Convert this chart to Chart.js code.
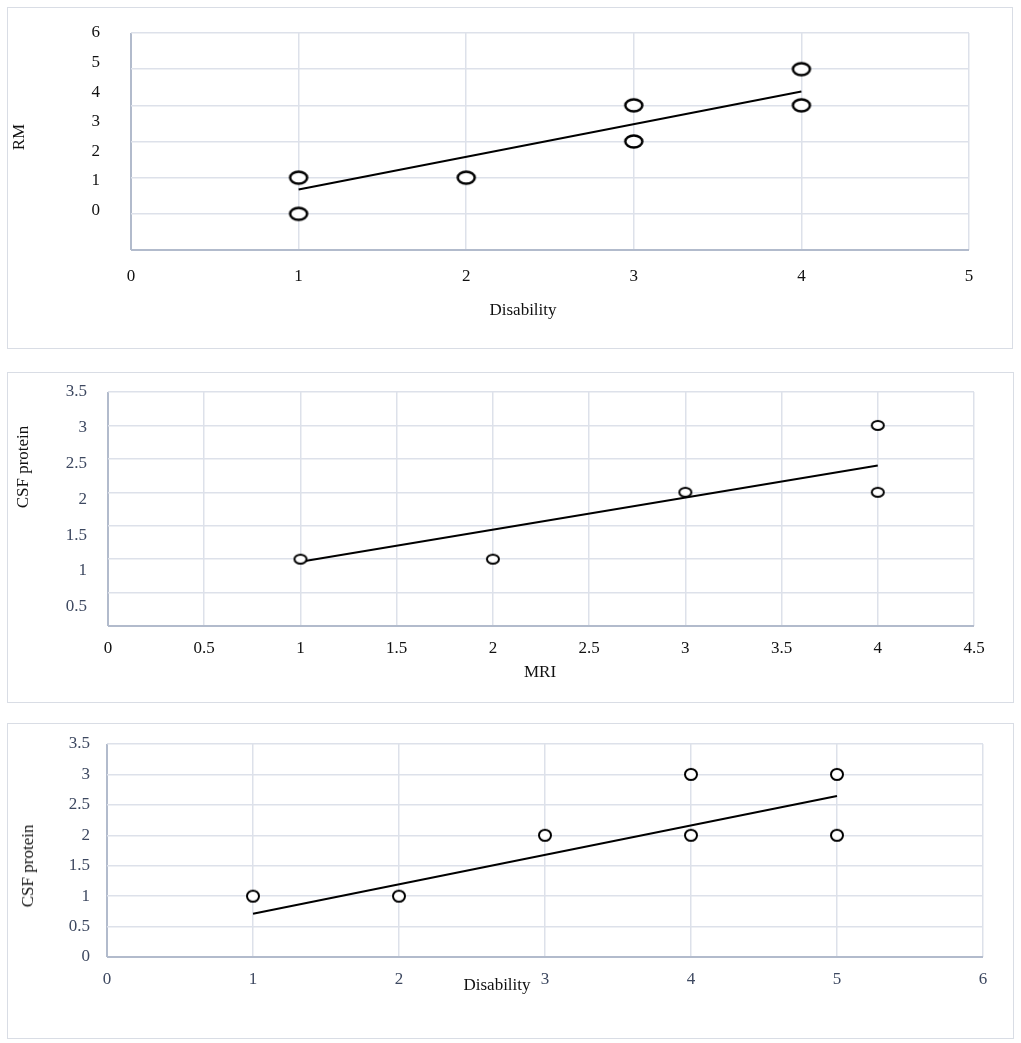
<!DOCTYPE html>
<html>
<head>
<meta charset="utf-8">
<script src="https://cdn.jsdelivr.net/npm/chart.js@4.4.1/dist/chart.umd.min.js"></script>
<style>
  html, body { margin: 0; padding: 0; background: #fff; }
  body { width: 1021px; height: 1043px; position: relative; overflow: hidden; font-family: 'Liberation Serif', serif; }
  .box { position: absolute; border: 1.5px solid #d9dde5; box-sizing: border-box; }
  canvas.c { position: absolute; left: 0; }
  .t { position: absolute; font-size: 17px; color: #111; white-space: nowrap; transform: translate(-50%, -50%); }
  .t.r { transform: translate(-50%, -50%) rotate(-90deg); }
</style>
</head>
<body>
<div class="box" style="left:7px;top:7px;width:1006px;height:342px;"></div>
<div class="box" style="left:7px;top:372px;width:1007px;height:331px;"></div>
<div class="box" style="left:7px;top:723px;width:1007px;height:316px;"></div>

<canvas id="c1" class="c" style="top:0px;"></canvas>
<canvas id="c2" class="c" style="top:360px;"></canvas>
<canvas id="c3" class="c" style="top:710px;"></canvas>

<div class="t r" style="left:19px;top:137px;">RM</div>
<div class="t" style="left:523px;top:310px;">Disability</div>
<div class="t r" style="left:23px;top:467px;">CSF protein</div>
<div class="t" style="left:540px;top:672px;">MRI</div>
<div class="t r" style="left:28px;top:866px;">CSF protein</div>
<div class="t" style="left:497px;top:985px;">Disability</div>

<script>
// ---------- Data ----------
// Panel 1: Disability vs RM
const p1X = [1, 1, 2, 3, 3, 4, 4];
const p1Y = [0, 1, 1, 2, 3, 3, 4];
const p1TrendX = [1, 4];
const p1TrendY = [0.67, 3.38];
const p1XTicks = [0, 1, 2, 3, 4, 5];
const p1YTickLabels = [0, 1, 2, 3, 4, 5, 6];

// Panel 2: MRI vs CSF protein
const p2X = [1, 2, 3, 4, 4];
const p2Y = [1, 1, 2, 2, 3];
const p2TrendX = [1, 4];
const p2TrendY = [0.96, 2.40];
const p2XTicks = [0, 0.5, 1, 1.5, 2, 2.5, 3, 3.5, 4, 4.5];
const p2YTickLabels = [0.5, 1, 1.5, 2, 2.5, 3, 3.5];

// Panel 3: Disability vs CSF protein
const p3X = [1, 2, 3, 4, 4, 5, 5];
const p3Y = [1, 1, 2, 2, 3, 2, 3];
const p3TrendX = [1, 5];
const p3TrendY = [0.71, 2.645];
const p3XTicks = [0, 1, 2, 3, 4, 5, 6];
const p3YTickLabels = [0, 0.5, 1, 1.5, 2, 2.5, 3, 3.5];

// ---------- Helpers ----------
Chart.defaults.font.family = "'Liberation Serif', 'Times New Roman', serif";
Chart.defaults.font.size = 17;
const GRID = '#dde1ea';
const AXIS = '#b2bbcc';

function ellipse(w, h, lw) {
  const c = document.createElement('canvas');
  c.width = Math.ceil(w + lw * 2 + 2);
  c.height = Math.ceil(h + lw * 2 + 2);
  const g = c.getContext('2d');
  g.beginPath();
  g.ellipse(c.width / 2, c.height / 2, w / 2, h / 2, 0, 0, Math.PI * 2);
  g.fillStyle = '#fff';
  g.fill();
  g.lineWidth = lw;
  g.strokeStyle = '#000';
  g.stroke();
  return c;
}

function pts(xs, ys) { return xs.map((x, i) => ({ x: x, y: ys[i] })); }
const fmt = v => String(v);
function noPadV(s) { s.paddingTop = 0; s.paddingBottom = 0; }

function makeChart(id, cfg) {
  const cv = document.getElementById(id);
  cv.width = 1021; cv.height = cfg.height;
  cv.style.width = '1021px'; cv.style.height = cfg.height + 'px';
  const scales = {
    x: {
      type: 'linear', min: cfg.xMin, max: cfg.xMax,
      afterBuildTicks: s => { s.ticks = cfg.xTicks.map(v => ({ value: v })); },
      afterFit: s => { s.height = cfg.xHeight; s.paddingLeft = 0; s.paddingRight = 0; },
      grid: {
        drawTicks: false,
        color: c => (c.tick && c.tick.value === cfg.xMin) ? AXIS : GRID,
        lineWidth: c => (c.tick && c.tick.value === cfg.xMin) ? 2 : 1.5
      },
      border: { display: false },
      ticks: { color: cfg.xTickColor, padding: cfg.xPad, maxRotation: 0, autoSkip: false, callback: fmt }
    },
    y: {
      type: 'linear', min: cfg.yMin, max: cfg.yMax,
      afterBuildTicks: s => { s.ticks = cfg.yGrid.map(v => ({ value: v })); },
      afterFit: s => { s.width = cfg.yLabelsSeparate ? 0 : cfg.yWidth; noPadV(s); },
      grid: {
        drawTicks: false,
        color: c => (c.tick && c.tick.value === cfg.yMin) ? AXIS : GRID,
        lineWidth: c => (c.tick && c.tick.value === cfg.yMin) ? 2 : 1.5
      },
      border: { display: false },
      ticks: { display: !cfg.yLabelsSeparate, color: cfg.yTickColor, padding: cfg.yPad, callback: fmt }
    }
  };
  if (cfg.yLabelsSeparate) {
    scales.yl = {
      type: 'linear', position: 'left', min: cfg.ylMin, max: cfg.ylMax,
      afterBuildTicks: s => { s.ticks = cfg.yLabels.map(v => ({ value: v })); },
      afterFit: s => { s.width = cfg.yWidth; noPadV(s); },
      grid: { display: false, drawTicks: false },
      border: { display: false },
      ticks: { color: cfg.yTickColor, padding: cfg.yPad, callback: fmt }
    };
  }
  return new Chart(cv, {
    type: 'scatter',
    data: {
      datasets: [
        {
          type: 'scatter', data: pts(cfg.xs, cfg.ys), yAxisID: 'y', order: 1,
          pointStyle: cfg.marker, pointRadius: 6, pointHoverRadius: 6
        },
        {
          type: 'line', data: pts(cfg.tx, cfg.ty), yAxisID: 'y', order: 2,
          borderColor: '#000', borderWidth: 2, pointRadius: 0, fill: false, tension: 0
        }
      ]
    },
    options: {
      responsive: false, animation: false, devicePixelRatio: 1,
      layout: { padding: { left: 0, top: cfg.padTop, right: cfg.padRight, bottom: 0 } },
      plugins: { legend: { display: false }, tooltip: { enabled: false } },
      scales: scales
    }
  });
}

// Panel 1
makeChart('c1', {
  height: 360, padTop: 33, padRight: 52, xHeight: 110, yWidth: 131,
  xs: p1X, ys: p1Y, tx: p1TrendX, ty: p1TrendY,
  xMin: 0, xMax: 5, xTicks: p1XTicks, xPad: 16, xTickColor: '#111',
  yMin: -1, yMax: 5, yGrid: [-1, 0, 1, 2, 3, 4, 5],
  yLabelsSeparate: true, ylMin: -1.35, ylMax: 6, yLabels: p1YTickLabels,
  yPad: 31, yTickColor: '#111',
  marker: ellipse(17, 12, 2.5)
});

// Panel 2
makeChart('c2', {
  height: 350, padTop: 32, padRight: 47, xHeight: 84, yWidth: 108,
  xs: p2X, ys: p2Y, tx: p2TrendX, ty: p2TrendY,
  xMin: 0, xMax: 4.5, xTicks: p2XTicks, xPad: 12, xTickColor: '#111',
  yMin: 0, yMax: 3.5, yGrid: [0, 0.5, 1, 1.5, 2, 2.5, 3, 3.5],
  yLabelsSeparate: true, ylMin: 0.23, ylMax: 3.5, yLabels: p2YTickLabels,
  yPad: 21, yTickColor: '#3d4860',
  marker: ellipse(12, 9, 2)
});

// Panel 3
makeChart('c3', {
  height: 333, padTop: 34, padRight: 38, xHeight: 86, yWidth: 107,
  xs: p3X, ys: p3Y, tx: p3TrendX, ty: p3TrendY,
  xMin: 0, xMax: 6, xTicks: p3XTicks, xPad: 12, xTickColor: '#3d4860',
  yMin: 0, yMax: 3.5, yGrid: p3YTickLabels,
  yLabelsSeparate: false,
  yPad: 17, yTickColor: '#3d4860',
  marker: ellipse(12, 11, 2)
});
</script>
</body>
</html>
